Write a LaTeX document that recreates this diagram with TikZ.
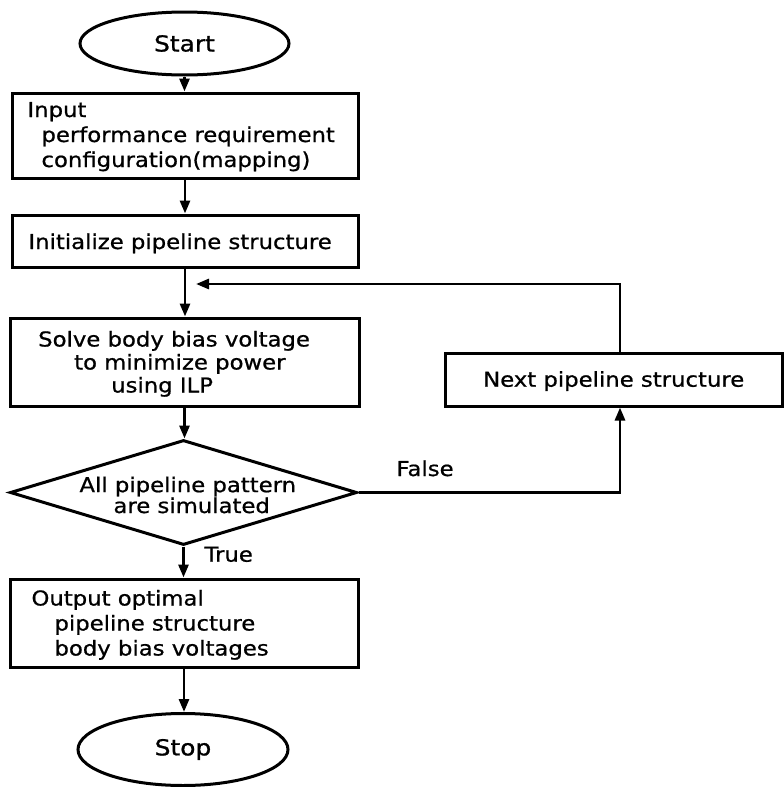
\documentclass[tikz,border=0pt]{standalone}
\usepackage{fontspec}
\usetikzlibrary{shapes.geometric,arrows.meta}
\newfontfamily\chartfont{DejaVu Sans}[FakeStretch=1.11,FakeBold=0.8]
\newfontfamily\termfont{DejaVu Sans}[FakeStretch=1.13,FakeBold=1]

\begin{document}
\begin{tikzpicture}[x=1pt,y=-1pt,
  line width=3pt,
  box/.style={draw, rectangle, inner sep=0pt},
  term/.style={draw, ellipse, inner sep=0pt, font=\termfont\fontsize{22}{26}\selectfont},
  decision/.style={draw, diamond, inner sep=0pt},
  lbl/.style={inner sep=0pt, anchor=base west, align=left,
              font=\chartfont\fontsize{20.5}{25}\selectfont},
  flow/.style={-{Triangle[length=13pt,width=10pt]}, line width=2.8pt},
]
\useasboundingbox (0,0) rectangle (784,787);

% terminals
\node[term, minimum width=209pt, minimum height=63pt] (start) at (184.5,43.5) {Start};
\node[term, minimum width=210pt, minimum height=72pt] (stop) at (183,749.5) {Stop};

% process boxes
\node[box, minimum width=346pt, minimum height=85pt] (in) at (185,135.5) {};
\node[box, minimum width=346pt, minimum height=52pt] (init) at (185,241) {};
\node[box, minimum width=349pt, minimum height=88pt] (solve) at (184.5,362) {};
\node[box, minimum width=337pt, minimum height=53pt] (next) at (613.5,379.5) {};
\node[decision, minimum width=347pt, minimum height=105pt] (dec) at (183.5,492.5) {};
\node[box, minimum width=348pt, minimum height=88pt] (out) at (184,623) {};

% texts (multi-line labels sit on the baseline of their last line)
\node[lbl] (intxt) at (26,167)
  {Input\\\hspace*{14pt}performance requirement\\\hspace*{14pt}configuration(mapping)};
\node[lbl] (inittxt) at (27,249) {Initialize pipeline structure};
\node[lbl, font=\chartfont\fontsize{20.5}{23}\selectfont] (solvetxt) at (36.7,392.5)
  {Solve body bias voltage\\\hspace*{36pt}to minimize power\\\hspace*{73pt}using ILP};
\node[lbl] (nexttxt) at (481.7,386.7) {Next pipeline structure};
\node[lbl, font=\chartfont\fontsize{20.5}{19.5}\selectfont] (dectxt) at (78,513)
  {All pipeline pattern\\\hspace*{34pt}are simulated};
\node[lbl] (outtxt) at (30,655.5)
  {Output optimal\\\hspace*{23pt}pipeline structure\\\hspace*{23pt}body bias voltages};
\node[lbl] (falsetxt) at (395,476) {False};
\node[lbl] (truetxt) at (203,561.7) {True};

% connectors
\coordinate (turn) at (620,492.5);
\coordinate (back) at (196,284);
\draw[flow] (start.south) -- (start.south |- in.north);
\draw[flow] (in.south) -- (init.north);
\draw[flow] (init.south) -- (init.south |- solve.north);
\draw[flow] (solve.south) -- (solve.south |- dec.north);
\draw[flow] (dec.east) -| (turn |- next.south);
\draw[flow] (turn |- next.north) |- (back);
\draw[flow] (dec.south) -- (dec.south |- out.north);
\draw[flow] (out.south) -- (out.south |- stop.north);
\end{tikzpicture}
\end{document}
